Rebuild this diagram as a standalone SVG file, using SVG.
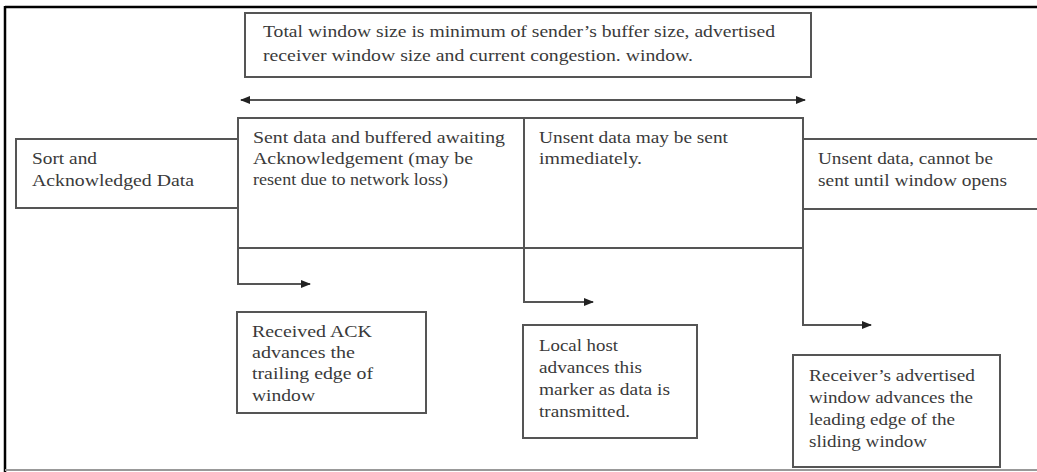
<svg xmlns="http://www.w3.org/2000/svg" width="1037" height="472" viewBox="0 0 1037 472">
<defs>
<marker id="ah" viewBox="0 0 10 10" refX="9" refY="5" markerWidth="5" markerHeight="5" orient="auto-start-reverse" markerUnits="strokeWidth">
<path d="M0,1 L10,5 L0,9 z" fill="#222"/>
</marker>
</defs>
<style>
.box{fill:#fff;stroke:#555;stroke-width:2}
.t{font-family:"Liberation Serif","Times New Roman",serif;font-size:17px;fill:#3a3a3a}
.c{fill:none;stroke:#555;stroke-width:2}
</style>
<rect x="0" y="0" width="1037" height="472" fill="#fff"/>
<g id="frame">
<line x1="5" y1="7" x2="1037" y2="7" stroke="#000" stroke-width="2.5"/>
<line x1="5" y1="6" x2="5" y2="472" stroke="#000" stroke-width="2.5"/>
<line x1="5" y1="470" x2="1037" y2="470" stroke="#999" stroke-width="2"/>
</g>
<g id="total-window">
<rect class="box" x="245" y="13" width="566" height="64"/>
<text class="t" x="263" y="37" textLength="512" lengthAdjust="spacingAndGlyphs">Total window size is minimum of sender’s buffer size, advertised</text>
<text class="t" x="263" y="61" textLength="430" lengthAdjust="spacingAndGlyphs">receiver window size and current congestion. window.</text>
</g>
<g id="sort-ack">
<rect class="box" x="16" y="139" width="222" height="69"/>
<text class="t" x="32" y="164" textLength="65" lengthAdjust="spacingAndGlyphs">Sort and</text>
<text class="t" x="32" y="186" textLength="162" lengthAdjust="spacingAndGlyphs">Acknowledged Data</text>
</g>
<g id="unsent-cannot">
<rect class="box" x="803" y="139" width="240" height="70"/>
<text class="t" x="818" y="164" textLength="175" lengthAdjust="spacingAndGlyphs">Unsent data, cannot be</text>
<text class="t" x="818" y="186" textLength="189" lengthAdjust="spacingAndGlyphs">sent until window opens</text>
</g>
<g id="sent-buffered">
<rect class="box" x="238" y="118" width="286" height="130"/>
<text class="t" x="253" y="143" textLength="252" lengthAdjust="spacingAndGlyphs">Sent data and buffered awaiting</text>
<text class="t" x="253" y="164" textLength="220" lengthAdjust="spacingAndGlyphs">Acknowledgement (may be</text>
<text class="t" x="253" y="185" textLength="195" lengthAdjust="spacingAndGlyphs">resent due to network loss)</text>
</g>
<g id="unsent-may">
<rect class="box" x="524" y="118" width="279" height="130"/>
<text class="t" x="539" y="143" textLength="189" lengthAdjust="spacingAndGlyphs">Unsent data may be sent</text>
<text class="t" x="539" y="164" textLength="103" lengthAdjust="spacingAndGlyphs">immediately.</text>
</g>
<g id="received-ack">
<rect class="box" x="237" y="312" width="189" height="101"/>
<text class="t" x="252" y="337" textLength="120" lengthAdjust="spacingAndGlyphs">Received ACK</text>
<text class="t" x="252" y="358" textLength="103" lengthAdjust="spacingAndGlyphs">advances the</text>
<text class="t" x="252" y="379" textLength="121" lengthAdjust="spacingAndGlyphs">trailing edge of</text>
<text class="t" x="252" y="401" textLength="63" lengthAdjust="spacingAndGlyphs">window</text>
</g>
<g id="local-host">
<rect class="box" x="523" y="325" width="174" height="113"/>
<text class="t" x="539" y="351" textLength="79" lengthAdjust="spacingAndGlyphs">Local host</text>
<text class="t" x="539" y="373" textLength="103" lengthAdjust="spacingAndGlyphs">advances this</text>
<text class="t" x="539" y="395" textLength="131" lengthAdjust="spacingAndGlyphs">marker as data is</text>
<text class="t" x="539" y="417" textLength="91" lengthAdjust="spacingAndGlyphs">transmitted.</text>
</g>
<g id="receiver-adv">
<rect class="box" x="793" y="355" width="207" height="112"/>
<text class="t" x="809" y="381" textLength="166" lengthAdjust="spacingAndGlyphs">Receiver’s advertised</text>
<text class="t" x="809" y="403" textLength="164" lengthAdjust="spacingAndGlyphs">window advances the</text>
<text class="t" x="809" y="425" textLength="146" lengthAdjust="spacingAndGlyphs">leading edge of the</text>
<text class="t" x="809" y="447" textLength="118" lengthAdjust="spacingAndGlyphs">sliding window</text>
</g>
<g id="connectors">
<line class="c" x1="241" y1="100" x2="805" y2="100" marker-start="url(#ah)" marker-end="url(#ah)"/>
<polyline class="c" points="238,248 238,284 310,284" marker-end="url(#ah)"/>
<polyline class="c" points="524,248 524,302 593,302" marker-end="url(#ah)"/>
<polyline class="c" points="803,248 803,325 871,325" marker-end="url(#ah)"/>
</g>
</svg>
